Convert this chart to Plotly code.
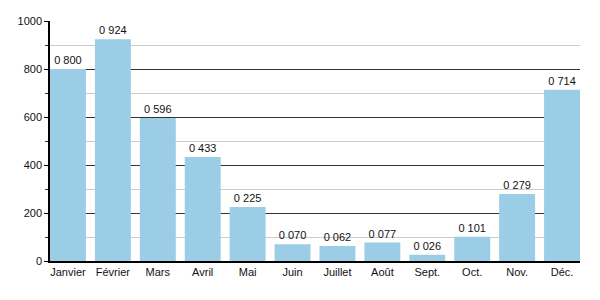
import plotly.graph_objects as go

months = ["Janvier", "Février", "Mars", "Avril", "Mai", "Juin", "Juillet", "Août", "Sept.", "Oct.", "Nov.", "Déc."]
values = [800, 924, 596, 433, 225, 70, 62, 77, 26, 101, 279, 714]
labels = ["0 800", "0 924", "0 596", "0 433", "0 225", "0 070", "0 062", "0 077", "0 026", "0 101", "0 279", "0 714"]
yticks = [0, 200, 400, 600, 800, 1000]

fig = go.Figure()
fig.add_trace(go.Bar(
    x=list(range(len(months))), y=values, text=labels,
    textposition="outside", cliponaxis=False,
    textfont=dict(family="Liberation Sans, Arial, sans-serif", size=11, color="#111"),
    marker=dict(color="#9bcde6", line=dict(width=0)),
    width=0.8,
))
fig.update_layout(
    width=600, height=300,
    margin=dict(l=50, r=20, t=21, b=39),
    plot_bgcolor="white", paper_bgcolor="white",
    showlegend=False,
    font=dict(family="Liberation Sans, Arial, sans-serif", size=11, color="#111"),
    bargap=0.2,
)
fig.update_xaxes(
    tickmode="array", tickvals=list(range(len(months))), ticktext=months,
    range=[-0.4, 11.4], showgrid=False, showline=True, linecolor="black", linewidth=1.5,
    ticks="", zeroline=False,
)
fig.update_yaxes(
    range=[0, 1000], tickmode="array", tickvals=yticks, ticktext=[str(v) for v in yticks],
    showgrid=True, gridcolor="#333333", gridwidth=1,
    showline=True, linecolor="black", linewidth=1.5,
    ticks="outside", ticklen=4, tickcolor="black",
    zeroline=False,
    minor=dict(dtick=100, tick0=0, showgrid=True, gridcolor="#cccccc", ticks="outside", ticklen=3, tickcolor="#333"),
)
fig.write_html("out.html")
